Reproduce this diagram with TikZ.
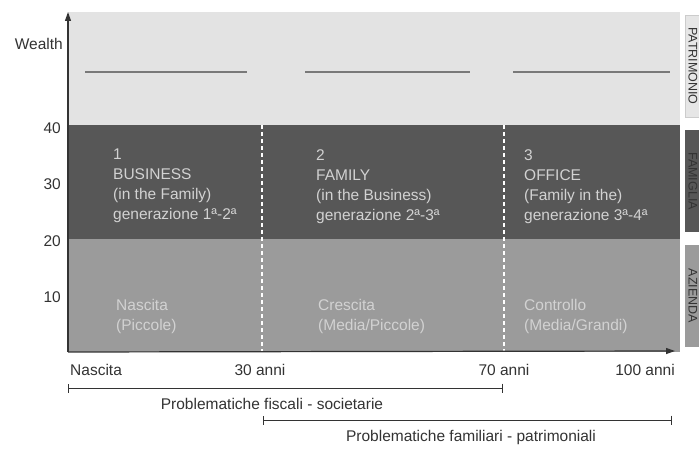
\documentclass[tikz,border=0pt]{standalone}
\usepackage{fontspec}
\setmainfont{Liberation Sans}
\usetikzlibrary{arrows.meta}
\definecolor{fasciachiara}{HTML}{E3E3E3}
\definecolor{fasciascura}{HTML}{575757}
\definecolor{fasciamedia}{HTML}{9B9B9B}
\definecolor{testofascia}{HTML}{D2D2D2}
\definecolor{inchiostro}{HTML}{333333}
\tikzset{
  asse/.style={draw=inchiostro,line width=1.2pt,-{Triangle[length=9pt,width=6pt]}},
  separatore/.style={draw=white,line width=1.4pt,dash pattern=on 4pt off 3pt},
  riga/.style={draw=gray!95!black,line width=2pt},
  intervallo/.style={draw=inchiostro,line width=0.8pt,{Bar[width=9pt]}-{Bar[width=9pt]}},
  testo/.style={inner sep=0pt,text=inchiostro,font=\fontsize{15.5}{20}\selectfont},
  fascia/.style={inner sep=0pt,anchor=north west,align=left,text=testofascia,font=\fontsize{15.5}{20}\selectfont},
  laterale/.style={rotate=-90,minimum width=102pt,minimum height=16pt,inner sep=0pt,text=inchiostro,font=\fontsize{12.5}{14}\selectfont}
}
\begin{document}
\begin{tikzpicture}[x=1pt,y=-1pt]
\useasboundingbox[fill=white] (0,0) rectangle (699,457);
% fasce
\fill[fasciachiara] (68,12) rectangle (680,125);
\fill[fasciascura] (68,125) rectangle (680,239);
\fill[fasciamedia] (68,239) rectangle (680,352);
% righe nella fascia alta
\coordinate (r1a) at (85,72);  \coordinate (r1b) at (247,72);
\coordinate (r2a) at (305,72); \coordinate (r2b) at (470,72);
\coordinate (r3a) at (513,72); \coordinate (r3b) at (670,72);
\path[riga] (r1a) -- (r1b);
\path[riga] (r2a) -- (r2b);
\path[riga] (r3a) -- (r3b);
% separatori tratteggiati
\coordinate (s1a) at (262,125); \coordinate (s1b) at (262,352);
\coordinate (s2a) at (504,125); \coordinate (s2b) at (504,352);
\path[separatore] (s1a) -- (s1b);
\path[separatore] (s2a) -- (s2b);
% assi
\coordinate (o) at (68,352);
\coordinate (ytop) at (68,12);
\coordinate (xend) at (675,351);
\path[asse] (o) -- (ytop);
\path[asse] (o) -- (xend);
\node[testo,anchor=east] (wealth) at (63,44) {Wealth};
\node[testo,anchor=east] (y40) at (61,128) {40};
\node[testo,anchor=east] (y30) at (61,184) {30};
\node[testo,anchor=east] (y20) at (61,241) {20};
\node[testo,anchor=east] (y10) at (61,297) {10};
% testi nella fascia scura
\node[fascia] (c1) at (113,149) {1\\BUSINESS\\(in the Family)\\generazione 1ª-2ª};
\node[fascia] (c2) at (316,149) {2\\FAMILY\\(in the Business)\\generazione 2ª-3ª};
\node[fascia] (c3) at (524,149) {3\\OFFICE\\(Family in the)\\generazione 3ª-4ª};
% testi nella fascia media
\node[fascia] (d1) at (116,299) {Nascita\\(Piccole)};
\node[fascia] (d2) at (318,299) {Crescita\\(Media/Piccole)};
\node[fascia] (d3) at (524,299) {Controllo\\(Media/Grandi)};
% etichette laterali
\node[laterale,fill=fasciachiara!85!black!40!white,draw=gray!40] (p) at (693,66) {PATRIMONIO};
\node[laterale,fill=fasciascura,text=fasciascura!60!black] (f) at (693,181) {FAMIGLIA};
\node[laterale,fill=fasciamedia] (a) at (693,296) {AZIENDA};
% asse dei tempi
\node[testo,anchor=base west] (t0) at (70,375) {Nascita};
\node[testo,anchor=base] (t30) at (260,375) {30 anni};
\node[testo,anchor=base] (t70) at (504,375) {70 anni};
\node[testo,anchor=base] (t100) at (645,375) {100 anni};
\coordinate (i1a) at (68,388);  \coordinate (i1b) at (503,388);
\coordinate (i2a) at (263,420); \coordinate (i2b) at (672,420);
\path[intervallo] (i1a) -- (i1b);
\path[intervallo] (i2a) -- (i2b);
\node[testo] (pf) at (272,404) {Problematiche fiscali - societarie};
\node[testo] (pp) at (471,437) {Problematiche familiari - patrimoniali};
\end{tikzpicture}
\end{document}
